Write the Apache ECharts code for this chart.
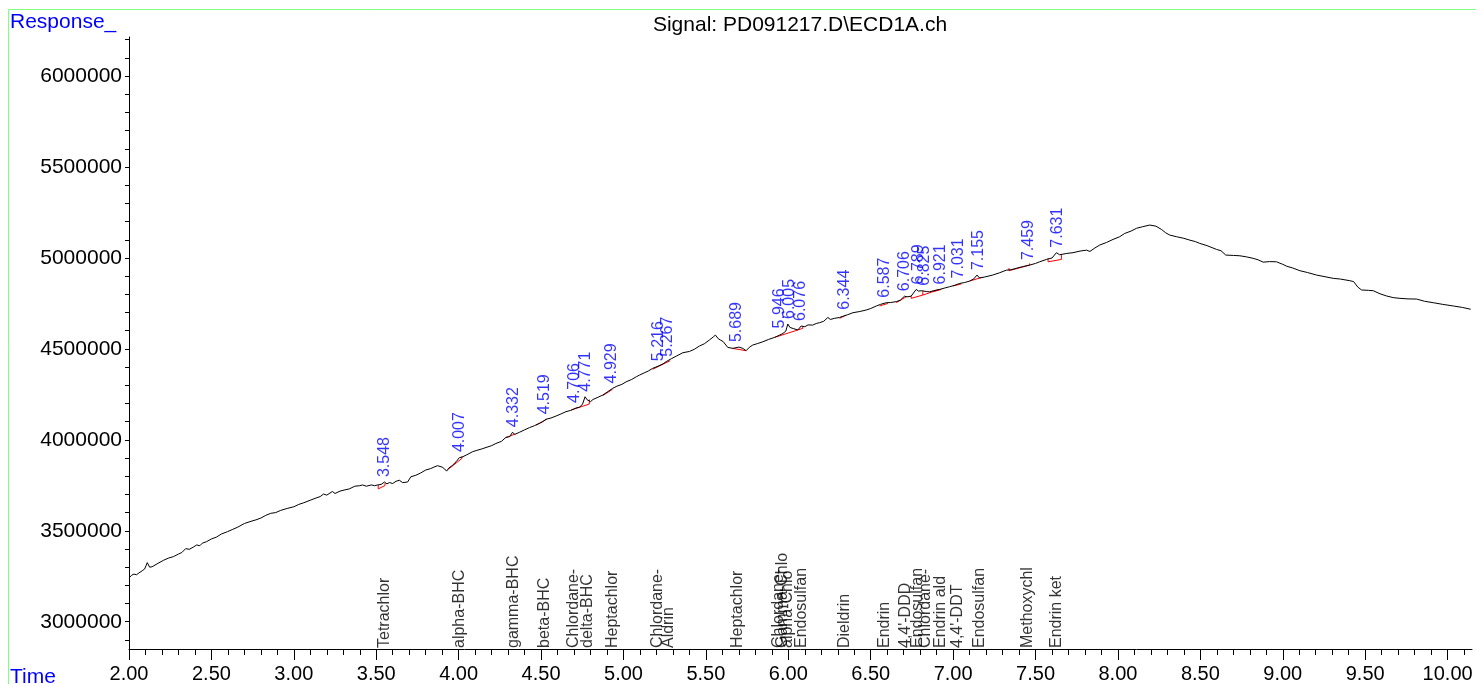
<!DOCTYPE html>
<html>
<head>
<meta charset="utf-8">
<script src="https://cdn.jsdelivr.net/npm/echarts@6/dist/echarts.min.js"></script>
<style>
html,body{margin:0;padding:0;background:#fff;}
#chart{width:1476px;height:684px;}
</style>
</head>
<body>
<div id="chart"></div>
<script>
// ---- Data ----
const traceTime = [
2.000,2.015,2.030,2.045,2.060,2.080,2.095,2.111,2.125,2.140,2.170,2.210,2.240,2.270,2.300,2.320,2.344,2.365,2.390,2.410,
2.430,2.445,2.470,2.500,2.530,2.560,2.597,2.630,2.660,2.700,2.740,2.770,2.800,2.830,2.860,2.890,2.920,2.960,3.000,3.030,
3.060,3.100,3.140,3.160,3.180,3.200,3.234,3.250,3.280,3.310,3.336,3.370,3.400,3.417,3.440,3.470,3.490,3.508,3.530,3.550,
3.565,3.580,3.600,3.620,3.640,3.660,3.690,3.710,3.740,3.770,3.800,3.830,3.850,3.872,3.900,3.915,3.927,3.940,3.960,3.985,
4.004,4.020,4.050,4.085,4.110,4.140,4.166,4.200,4.226,4.260,4.287,4.310,4.327,4.340,4.370,4.400,4.429,4.460,4.489,4.510,
4.530,4.560,4.591,4.620,4.651,4.680,4.712,4.735,4.752,4.767,4.780,4.790,4.800,4.815,4.840,4.874,4.900,4.934,4.960,4.990,
5.016,5.050,5.080,5.097,5.130,5.150,5.177,5.210,5.240,5.259,5.290,5.320,5.360,5.400,5.430,5.461,5.490,5.520,5.545,5.558,
5.575,5.590,5.605,5.633,5.664,5.700,5.724,5.744,5.765,5.784,5.815,5.845,5.880,5.916,5.945,5.967,5.985,5.997,6.010,6.030,
6.058,6.078,6.100,6.120,6.148,6.170,6.189,6.215,6.240,6.255,6.280,6.311,6.340,6.360,6.392,6.430,6.473,6.500,6.534,6.560,
6.594,6.620,6.655,6.680,6.705,6.720,6.745,6.776,6.790,6.810,6.840,6.857,6.890,6.918,6.950,6.979,7.010,7.040,7.070,7.100,
7.125,7.145,7.160,7.190,7.240,7.280,7.323,7.350,7.383,7.420,7.465,7.500,7.525,7.566,7.600,7.627,7.645,7.660,7.690,7.727,
7.770,7.809,7.830,7.860,7.889,7.930,7.970,8.011,8.041,8.080,8.112,8.150,8.193,8.230,8.264,8.290,8.314,8.355,8.400,8.436,
8.470,8.497,8.540,8.598,8.625,8.654,8.700,8.740,8.780,8.820,8.850,8.881,8.920,8.962,9.000,9.023,9.060,9.104,9.150,9.205,
9.250,9.306,9.350,9.407,9.430,9.455,9.478,9.520,9.549,9.590,9.630,9.670,9.711,9.760,9.812,9.860,9.913,9.970,10.035,10.090,
10.140
];
const traceResponse = [
3240000,3255000,3262000,3258000,3268000,3280000,3290000,3325000,3300000,3302000,3318000,3338000,3350000,3358000,3372000,3380000,3402000,3398000,3410000,3422000,
3418000,3432000,3440000,3455000,3465000,3482000,3495000,3508000,3520000,3540000,3552000,3560000,3570000,3585000,3596000,3600000,3612000,3623000,3632000,3645000,
3654000,3668000,3682000,3688000,3702000,3696000,3716000,3705000,3718000,3725000,3730000,3745000,3748000,3752000,3745000,3752000,3748000,3752000,3755000,3768000,
3758000,3765000,3760000,3772000,3778000,3765000,3768000,3797000,3805000,3818000,3834000,3842000,3850000,3858000,3850000,3840000,3828000,3845000,3858000,3880000,
3902000,3905000,3918000,3935000,3942000,3950000,3958000,3968000,3980000,3992000,4014000,4018000,4042000,4030000,4042000,4055000,4067000,4078000,4090000,4100000,
4113000,4120000,4131000,4142000,4155000,4162000,4175000,4180000,4197000,4237000,4220000,4222000,4210000,4222000,4232000,4246000,4262000,4283000,4295000,4305000,
4319000,4332000,4348000,4356000,4370000,4378000,4393000,4405000,4418000,4430000,4446000,4460000,4479000,4486000,4498000,4516000,4528000,4548000,4566000,4576000,
4556000,4548000,4540000,4508000,4503000,4510000,4503000,4490000,4510000,4521000,4530000,4539000,4552000,4563000,4575000,4585000,4598000,4637000,4618000,4612000,
4604000,4626000,4622000,4632000,4631000,4640000,4644000,4652000,4673000,4662000,4668000,4673000,4682000,4688000,4699000,4705000,4714000,4722000,4736000,4745000,
4754000,4755000,4760000,4768000,4790000,4786000,4790000,4827000,4818000,4820000,4815000,4814000,4822000,4827000,4835000,4842000,4850000,4860000,4865000,4873000,
4885000,4906000,4890000,4895000,4906000,4918000,4933000,4935000,4943000,4952000,4961000,4970000,4979000,4992000,5000000,5029000,5018000,5020000,5025000,5029000,
5038000,5043000,5036000,5055000,5071000,5085000,5102000,5117000,5135000,5148000,5163000,5172000,5181000,5175000,5157000,5138000,5126000,5117000,5108000,5098000,
5090000,5080000,5068000,5047000,5040000,5016000,5014000,5012000,5006000,4998000,4990000,4977000,4980000,4979000,4965000,4955000,4945000,4930000,4920000,4906000,
4898000,4888000,4884000,4875000,4870000,4840000,4824000,4822000,4820000,4803000,4791000,4782000,4778000,4775000,4774000,4762000,4754000,4745000,4736000,4728000,
4718000
];

const peakTimes = [3.548,4.007,4.332,4.519,4.706,4.771,4.929,5.216,5.267,5.689,5.946,6.005,6.076,6.344,6.587,6.706,6.789,6.825,6.921,7.031,7.155,7.459,7.631];

const compoundNames = ["Tetrachlor","alpha-BHC","gamma-BHC","beta-BHC","Chlordane-","delta-BHC","Heptachlor","Chlordane-","Aldrin","Heptachlor",
  "Chlordane-","Gamma-Chlo","alpha-Chlo","Endosulfan","Dieldrin","Endrin","4,4'-DDD","Endosulfan","Chlordane-","Endrin ald","4,4'-DDT","Endosulfan","Methoxychl","Endrin ket"];
const compoundTimes = [3.548,4.007,4.332,4.519,4.700,4.780,4.935,5.210,5.275,5.692,
  5.940,5.968,5.995,6.082,6.340,6.583,6.713,6.782,6.832,6.925,7.028,7.160,7.452,7.625];

// integration baselines (red)
const baseStartTime = [3.512,3.937,4.287,4.469,4.682,4.874,5.177,5.662,5.916,6.311,6.554,6.655,6.746,6.816,6.877,6.999,7.100,7.339,7.576];
const baseStartTop  = [3752000,3838000,4012000,4081000,4164000,4243000,4388000,4503000,4563000,4668000,4736000,4754000,4790000,4796000,4814000,4846000,4873000,4945000,4998000];
const baseStartResp = [3730000,3838000,4012000,4081000,4164000,4243000,4388000,4503000,4563000,4668000,4736000,4754000,4778000,4796000,4814000,4846000,4873000,4930000,4979000];
const baseEndTime   = [3.553,4.020,4.342,4.534,4.793,4.934,5.283,5.744,6.088,6.351,6.604,6.716,6.816,6.918,6.928,7.050,7.177,7.464,7.657];
const baseEndResp   = [3749000,3898000,4032000,4113000,4197000,4278000,4435000,4490000,4613000,4686000,4750000,4787000,4796000,4827000,4827000,4857000,4894000,4961000,4992000];
const baseEndTop    = [3762000,3910000,4032000,4113000,4222000,4278000,4435000,4490000,4626000,4686000,4750000,4790000,4818000,4827000,4827000,4857000,4894000,4970000,5022000];

const xMajorTicks = [2.0,2.5,3.0,3.5,4.0,4.5,5.0,5.5,6.0,6.5,7.0,7.5,8.0,8.5,9.0,9.5,10.0];
const yLabelTicks = [3000000,3500000,4000000,4500000,5000000,5500000,6000000];

// ---- Build ----
const X_MIN = 2.0, X_MAX = 10.148, Y_MIN = 2850000, Y_MAX = 6215000;
const xMinorTicks = [];
for (let i = 20; i <= 101; i++) xMinorTicks.push(i / 10);
const yMinorTicks = [];
for (let v = 2900000; v <= 6200000; v += 100000) yMinorTicks.push(v);

const traceData = traceTime.map((t, i) => [t, traceResponse[i]]);

function apexNear(t) {
  let best = -Infinity;
  for (let i = 0; i < traceTime.length; i++) {
    if (Math.abs(traceTime[i] - t) <= 0.022 && traceResponse[i] > best) best = traceResponse[i];
  }
  if (best === -Infinity) {
    let bi = 0;
    for (let i = 0; i < traceTime.length; i++) if (Math.abs(traceTime[i]-t) < Math.abs(traceTime[bi]-t)) bi = i;
    best = traceResponse[bi];
  }
  return best;
}
const peakLabelData = peakTimes.map(t => ({value: [t, apexNear(t)], name: t.toFixed(3)}));
const compoundData = compoundTimes.map((t, i) => ({value: [t, Y_MIN], name: compoundNames[i]}));
const baselineData = baseStartTime.map((t, i) => ({
  coords: [[t, baseStartTop[i]], [t, baseStartResp[i]], [baseEndTime[i], baseEndResp[i]], [baseEndTime[i], baseEndTop[i]]]
}));

const FONT = '"Liberation Sans", Arial, Helvetica, sans-serif';
const chart = echarts.init(document.getElementById('chart'), null, {renderer: 'canvas'});
chart.setOption({
  animation: false,
  backgroundColor: '#ffffff',
  textStyle: {fontFamily: FONT},
  grid: {left: 129, right: 4, top: 37, bottom: 35, containLabel: false},
  xAxis: [{
    type: 'value', min: X_MIN, max: X_MAX,
    axisLine: {show: true, onZero: false, lineStyle: {color: '#000', width: 1}},
    axisTick: {show: true, customValues: xMajorTicks, length: 11, lineStyle: {color: '#000'}},
    axisLabel: {show: true, customValues: xMajorTicks, formatter: v => Number(v).toFixed(2),
      fontSize: 20, color: '#000', margin: 15, fontFamily: FONT},
    splitLine: {show: false}
  }, {
    type: 'value', min: X_MIN, max: X_MAX, position: 'bottom', gridIndex: 0,
    axisLine: {show: false},
    axisTick: {show: true, customValues: xMinorTicks, length: 6, lineStyle: {color: '#000'}},
    axisLabel: {show: false},
    splitLine: {show: false}
  }],
  yAxis: [{
    type: 'value', min: Y_MIN, max: Y_MAX,
    axisLine: {show: true, onZero: false, lineStyle: {color: '#000', width: 1}},
    axisTick: {show: true, customValues: yMinorTicks, length: 4, lineStyle: {color: '#000'}},
    axisLabel: {show: true, customValues: yLabelTicks, formatter: v => String(v),
      fontSize: 21, color: '#000', margin: 7, fontFamily: FONT},
    splitLine: {show: false}
  }],
  series: [{
    type: 'line', name: 'trace', data: traceData, xAxisIndex: 0, yAxisIndex: 0,
    showSymbol: false, symbol: 'none', lineStyle: {color: '#000', width: 1}, z: 3
  }, {
    type: 'lines', name: 'baselines', coordinateSystem: 'cartesian2d', xAxisIndex: 0, yAxisIndex: 0,
    polyline: true, data: baselineData, lineStyle: {color: '#ff0000', width: 1, opacity: 1}, z: 2
  }, {
    type: 'scatter', name: 'peaks', data: peakLabelData, symbolSize: 0, xAxisIndex: 0, yAxisIndex: 0,
    label: {show: true, formatter: p => p.name, position: 'top', distance: 5, rotate: 90,
      align: 'left', verticalAlign: 'middle', color: '#0000ff', fontSize: 16, fontFamily: FONT},
    labelLayout: {hideOverlap: false}, z: 4
  }, {
    type: 'scatter', name: 'compounds', data: compoundData, symbolSize: 0, xAxisIndex: 0, yAxisIndex: 0,
    clip: false,
    label: {show: true, formatter: p => p.name, position: 'top', distance: 1, rotate: 90,
      align: 'left', verticalAlign: 'middle', color: '#000', fontSize: 16, fontFamily: FONT},
    labelLayout: {hideOverlap: false}, z: 4
  }],
  graphic: [
    {type: 'rect', shape: {x: 8.5, y: 9.5, width: 1500, height: 700}, style: {fill: 'none', stroke: '#80ff80', lineWidth: 1}, silent: true, z: 0},
    {type: 'text', x: 10, y: 22, style: {text: 'Response_', fill: '#0000ff', font: '21px ' + FONT, textAlign: 'left', textVerticalAlign: 'middle'}},
    {type: 'text', x: 10, y: 677, style: {text: 'Time', fill: '#0000ff', font: '21px ' + FONT, textAlign: 'left', textVerticalAlign: 'middle'}},
    {type: 'text', x: 800, y: 25, style: {text: 'Signal: PD091217.D\\ECD1A.ch', fill: '#000', font: '21px ' + FONT, textAlign: 'center', textVerticalAlign: 'middle'}}
  ]
});
</script>
</body>
</html>
